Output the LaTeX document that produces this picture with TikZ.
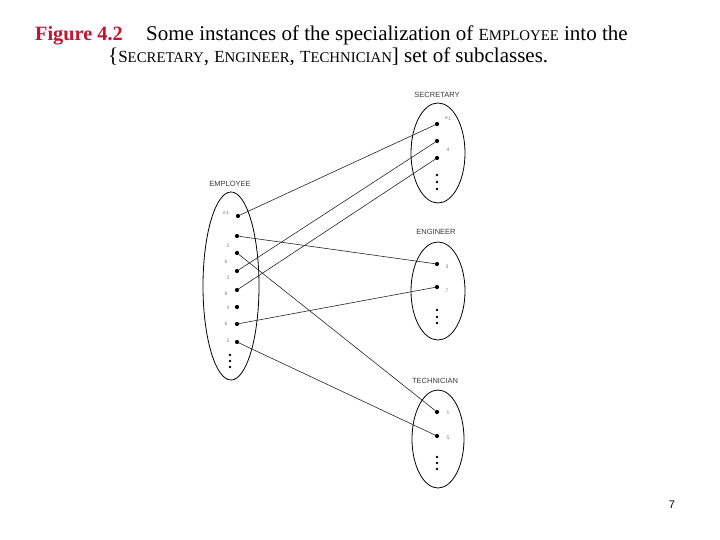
\documentclass[tikz,border=0pt]{standalone}
\usepackage{fontspec}
\setmainfont{Liberation Serif}
\newfontfamily\diagfont{Liberation Sans}
\definecolor{figred}{HTML}{C4122F}
\definecolor{lblgray}{HTML}{808080}
\definecolor{ttlgray}{HTML}{3A3A3A}
\newcommand{\capsA}{\fontsize{17}{19}\selectfont}
\newcommand{\capsB}{\fontsize{14.8}{17}\selectfont}
\begin{document}
\begin{tikzpicture}[x=1pt,y=-1pt,
  setell/.style={draw=black,line width=0.8pt},
  bigdot/.style={circle,fill=black,inner sep=0pt,minimum size=4.2pt},
  smalldot/.style={circle,fill=black,inner sep=0pt,minimum size=2.8pt},
  settitle/.style={font=\diagfont\fontsize{7.5}{8}\selectfont,text=ttlgray,inner sep=0pt},
  lbl/.style={font=\diagfont\fontsize{5}{6}\selectfont,text=lblgray,inner sep=0pt},
  link/.style={draw=black!85,line width=0.6pt},
  captxt/.style={anchor=base west,inner sep=0pt,font=\fontsize{21}{23}\selectfont}]
\useasboundingbox (0,0) rectangle (720,540);
\fill[white] (0,0) rectangle (720,540);

% caption
\node[captxt,text=figred,font=\fontsize{20.3}{23}\selectfont\bfseries] (fig) at (35,41) {Figure 4.2};
\node[captxt] (cap1) at (146,41) {Some instances of the specialization of {\capsA E\capsB MPLOYEE} into the};
\node[captxt] (cap2) at (108,63) {\{{\capsA S\capsB ECRETARY}, {\capsA E\capsB NGINEER}, {\capsA T\capsB ECHNICIAN}] set of subclasses.};

% sets
\draw[setell] (231,286) ellipse [x radius=28, y radius=94];
\draw[setell] (438,153) ellipse [x radius=27, y radius=50];
\draw[setell] (438,291) ellipse [x radius=27, y radius=49];
\draw[setell] (438,439) ellipse [x radius=26, y radius=49];

\node[settitle] (tEmp) at (230,184) {EMPLOYEE};
\node[settitle] (tSec) at (437,95) {SECRETARY};
\node[settitle] (tEng) at (436,232) {ENGINEER};
\node[settitle] (tTec) at (435,381) {TECHNICIAN};

% employee elements
\node[bigdot] (E1) at (238,216) {};
\node[bigdot] (E2) at (237,236) {};
\node[bigdot] (E3) at (237,253) {};
\node[bigdot] (E4) at (237,271) {};
\node[bigdot] (E5) at (237,290) {};
\node[bigdot] (E6) at (237,307) {};
\node[bigdot] (E7) at (237,324) {};
\node[bigdot] (E8) at (237,342) {};
\node[smalldot] (Ea) at (230,355) {};
\node[smalldot] (Eb) at (230,361) {};
\node[smalldot] (Ec) at (230,367) {};
\node[lbl] (lE1) at (226,213) {e\raisebox{-0.5pt}{1}};
\node[lbl] (lE2) at (228,246) {2};
\node[lbl] (lE3) at (226,262) {6};
\node[lbl] (lE4) at (228,278) {3};
\node[lbl] (lE5) at (226,294) {8};
\node[lbl] (lE6) at (228,308) {4};
\node[lbl] (lE7) at (226,324) {6};
\node[lbl] (lE8) at (228,341) {5};

% secretary elements
\node[bigdot] (S1) at (437,124) {};
\node[bigdot] (S2) at (437,141) {};
\node[bigdot] (S3) at (437,158) {};
\node[smalldot] (Sa) at (437,175) {};
\node[smalldot] (Sb) at (437,182) {};
\node[smalldot] (Sc) at (437,189) {};
\node[lbl] (lS1) at (448,119) {e\raisebox{-1pt}{1}};
\node[lbl] (lS2) at (448,150) {4};

% engineer elements
\node[bigdot] (G1) at (437,264) {};
\node[bigdot] (G2) at (437,287) {};
\node[smalldot] (Ga) at (437,310) {};
\node[smalldot] (Gb) at (437,317) {};
\node[smalldot] (Gc) at (437,323) {};
\node[lbl] (lG1) at (447,267) {3};
\node[lbl] (lG2) at (447,291) {7};

% technician elements
\node[bigdot] (T1) at (437,412) {};
\node[bigdot] (T2) at (437,436) {};
\node[smalldot] (Ta) at (437,457) {};
\node[smalldot] (Tb) at (437,463) {};
\node[smalldot] (Tc) at (437,469) {};
\node[lbl] (lT1) at (448,413) {1};
\node[lbl] (lT2) at (448,438) {5};

% connectors
\draw[link] (E1) -- (S1);
\draw[link] (E4) -- (S2);
\draw[link] (E5) -- (S3);
\draw[link] (E2) -- (G1);
\draw[link] (E7) -- (G2);
\draw[link] (E3) -- (T1);
\draw[link] (E8) -- (T2);

% page number
\node[font=\diagfont\fontsize{11}{12}\selectfont,inner sep=0pt] (pg) at (672,505) {7};
\end{tikzpicture}
\end{document}
